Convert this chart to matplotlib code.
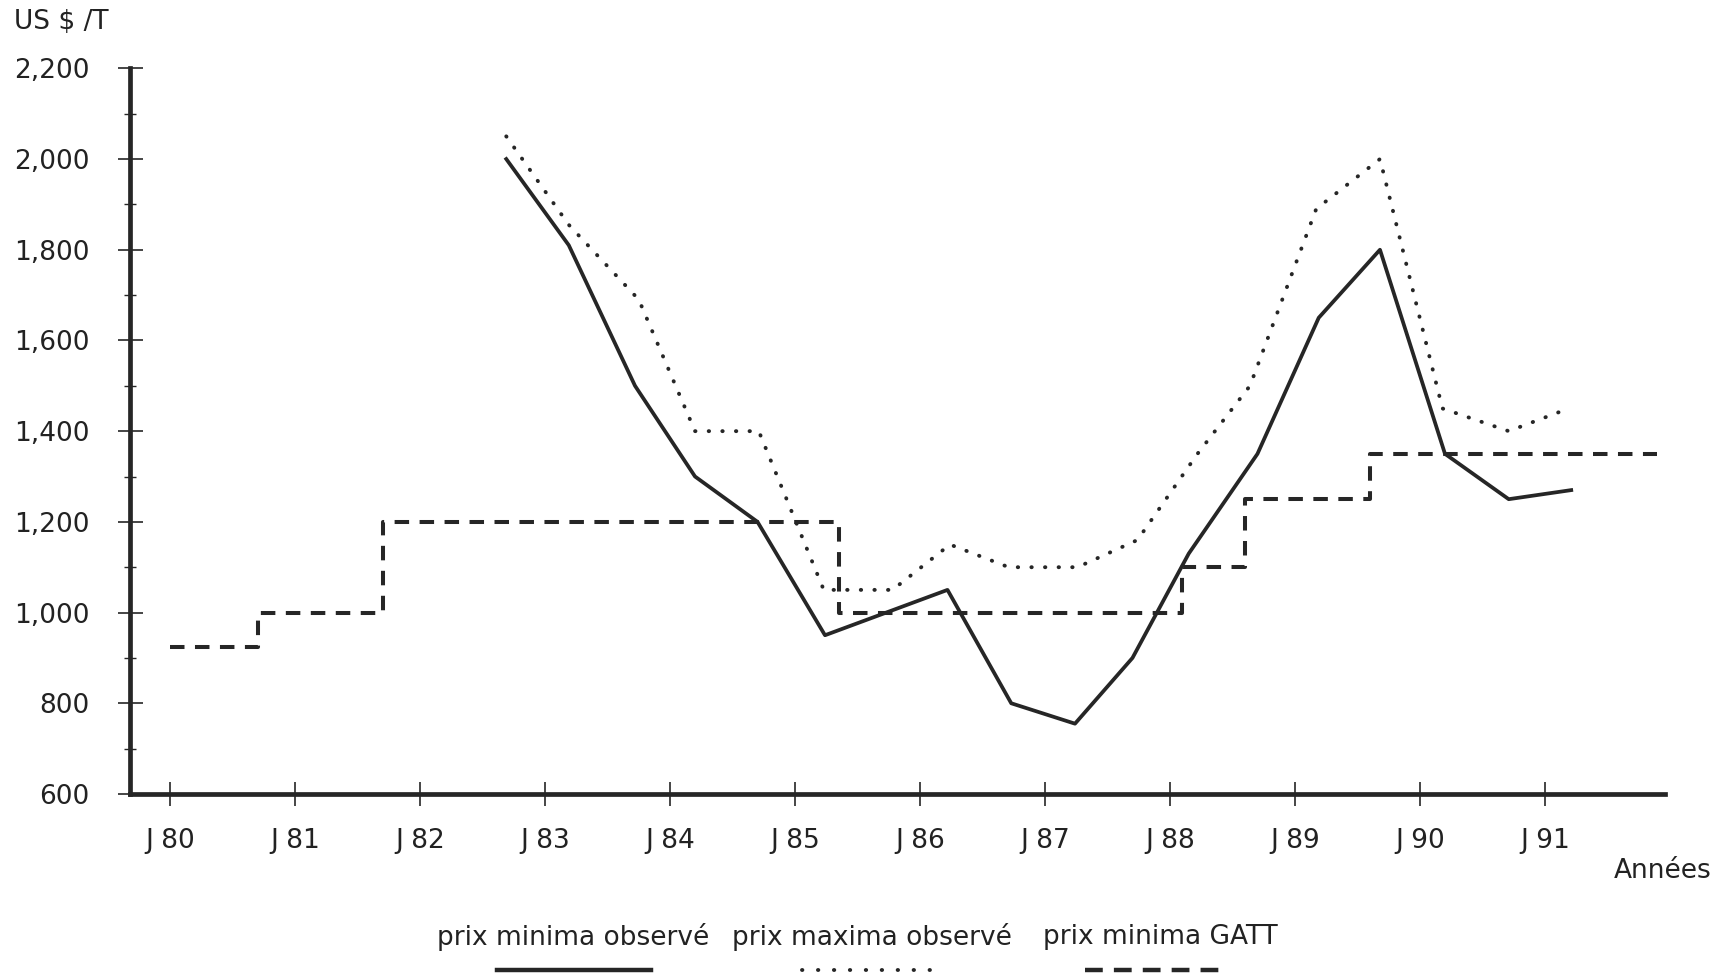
import matplotlib.pyplot as plt
from matplotlib.lines import Line2D
from matplotlib.ticker import MultipleLocator, FuncFormatter

plt.rcParams['font.family'] = ['DejaVu Sans']

# prix minima observé (trait plein)
x_min = [1982.69, 1983.19, 1983.72, 1984.2, 1984.7, 1985.24, 1986.22, 1986.73,
         1987.24, 1987.7, 1988.15, 1988.7, 1989.19, 1989.68, 1990.2, 1990.71, 1991.21]
prix_min = [2000, 1810, 1500, 1300, 1200, 950, 1050, 800,
            755, 900, 1130, 1350, 1650, 1800, 1350, 1250, 1270]

# prix maxima observé (pointillé)
x_max = [1982.69, 1983.19, 1983.75, 1984.2, 1984.71, 1985.23, 1985.78, 1986.24,
         1986.71, 1987.26, 1987.74, 1988.22, 1988.64, 1989.17, 1989.68, 1990.18,
         1990.71, 1991.19]
prix_max = [2050, 1855, 1690, 1400, 1400, 1050, 1050, 1150,
            1100, 1100, 1160, 1350, 1500, 1890, 2000, 1450,
            1400, 1450]

# prix minima GATT (escalier, tirets)
x_gatt = [1980.0, 1980.7, 1981.7, 1985.35, 1988.1, 1988.6, 1989.6, 1991.9]
prix_gatt = [925, 1000, 1200, 1000, 1100, 1250, 1350, 1350]

annees = list(range(1980, 1992))
etiquettes = ["J %02d" % (a % 100) for a in annees]

couleur = '#262626'
txt = '#222222'
taille = 19

fig = plt.figure(figsize=(17.2, 9.76), dpi=100)
ax = fig.add_axes([0.0756, 0.1865, 0.8924, 0.7435])

ax.plot(x_min, prix_min, color=couleur, lw=2.7)
ax.plot(x_max, prix_max, color=couleur, lw=2.8, linestyle=(0, (0.1, 3.4)),
        dash_capstyle='round')
ax.plot(x_gatt, prix_gatt, color=couleur, lw=2.9, linestyle=(0, (3.6, 2.6)),
        drawstyle='steps-post')

ax.set_xlim(1979.68, 1991.96)
ax.set_ylim(600, 2200)

for s in ['top', 'right']:
    ax.spines[s].set_visible(False)
for s in ['left', 'bottom']:
    ax.spines[s].set_linewidth(3.4)
    ax.spines[s].set_color(couleur)

ax.set_xticks(annees)
ax.set_xticklabels(etiquettes)
ax.yaxis.set_major_locator(MultipleLocator(200))
ax.yaxis.set_minor_locator(MultipleLocator(100))
ax.yaxis.set_major_formatter(FuncFormatter(lambda v, p: f"{int(v):,}"))

ax.tick_params(axis='x', which='major', direction='inout', length=17, width=1.2,
               color=couleur, pad=16, labelsize=taille, labelcolor=txt)
ax.tick_params(axis='y', which='major', direction='inout', length=18, width=1.2,
               color=couleur, pad=20, labelsize=taille, labelcolor=txt)
ax.tick_params(axis='y', which='minor', direction='inout', length=9, width=1.0,
               color=couleur)

fig.text(0.008, 0.977, "US $ /T", fontsize=taille, color=txt, va='center', ha='left')
fig.text(0.995, 0.108, "Années", fontsize=taille, color=txt, va='center', ha='right')

# légende manuelle
leg_y_txt = 0.040
leg_y_ligne = 0.006
fig.text(0.3331, leg_y_txt, "prix minima observé", fontsize=taille, ha='center', va='center', color=txt)
fig.text(0.507, leg_y_txt, "prix maxima observé", fontsize=taille, ha='center', va='center', color=txt)
fig.text(0.6744, leg_y_txt, "prix minima GATT", fontsize=taille, ha='center', va='center', color=txt)
fig.add_artist(Line2D([0.289, 0.3785], [leg_y_ligne, leg_y_ligne], transform=fig.transFigure,
                      color=couleur, lw=3.2))
fig.add_artist(Line2D([0.466, 0.548], [leg_y_ligne, leg_y_ligne], transform=fig.transFigure,
                      color=couleur, lw=2.8, linestyle=(0, (0.1, 4.0)), dash_capstyle='round'))
fig.add_artist(Line2D([0.631, 0.7128], [leg_y_ligne, leg_y_ligne], transform=fig.transFigure,
                      color=couleur, lw=3.2, linestyle=(0, (4, 2.5))))

fig.savefig("out.png", dpi=100)
